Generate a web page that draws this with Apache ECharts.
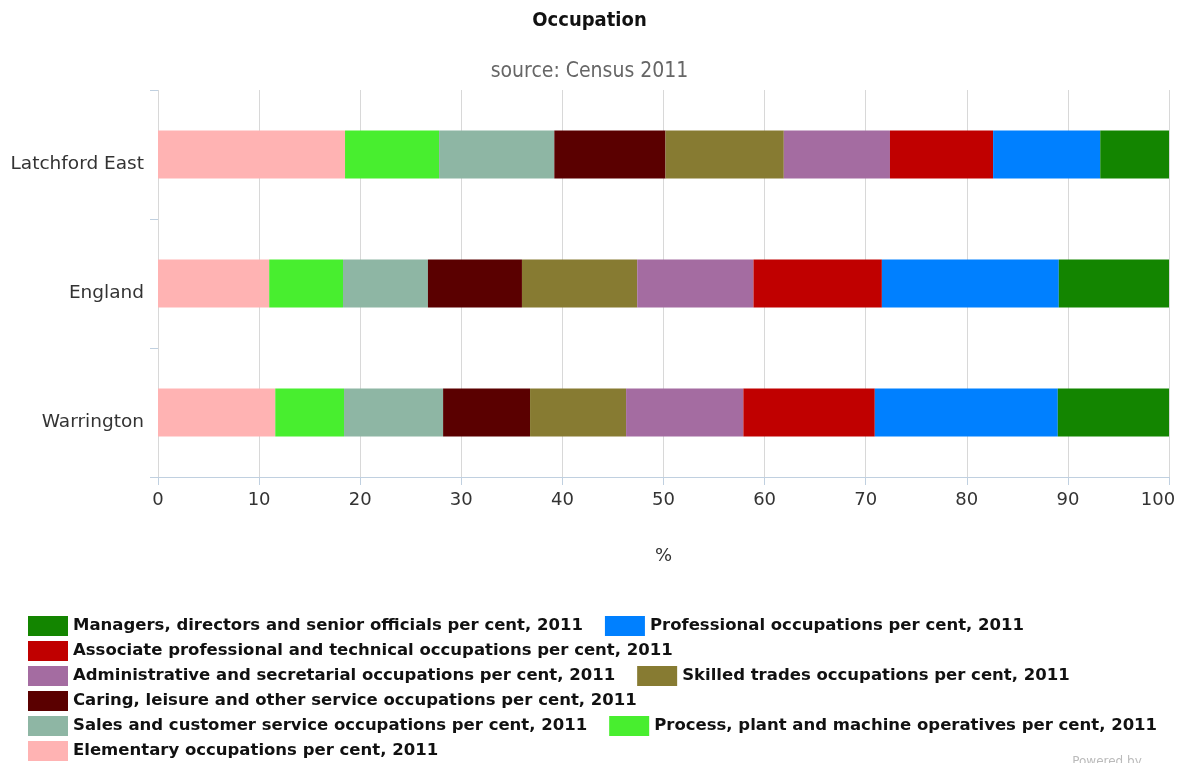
<!DOCTYPE html>
<html>
<head>
<meta charset="utf-8">
<script src="https://cdn.jsdelivr.net/npm/echarts@6/dist/echarts.min.js"></script>
<style>
  html, body { margin: 0; padding: 0; background: #fff; overflow: hidden; }
  #chart { width: 1179px; height: 763px; }
</style>
</head>
<body>
<div id="chart"></div>
<script>
// categories, top to bottom
var places = ['Latchford East', 'England', 'Warrington'];
var xTicks = [0, 10, 20, 30, 40, 50, 60, 70, 80, 90, 100];

// per cent values, same order as places
var managers     = [6.9, 10.9, 11.1];
var professional = [10.6, 17.5, 18.1];
var associate    = [10.2, 12.7, 13.0];
var admin        = [10.5, 11.5, 11.6];
var skilled      = [11.7, 11.4, 9.5];
var caring       = [11.0, 9.3, 8.6];
var sales        = [11.4, 8.4, 9.8];
var process      = [9.3, 7.3, 6.8];
var elementary   = [18.5, 11.0, 11.6];

var names = {
  managers: 'Managers, directors and senior officials per cent, 2011',
  professional: 'Professional occupations per cent, 2011',
  associate: 'Associate professional and technical occupations per cent, 2011',
  admin: 'Administrative and secretarial occupations per cent, 2011',
  skilled: 'Skilled trades occupations per cent, 2011',
  caring: 'Caring, leisure and other service occupations per cent, 2011',
  sales: 'Sales and customer service occupations per cent, 2011',
  process: 'Process, plant and machine operatives per cent, 2011',
  elementary: 'Elementary occupations per cent, 2011'
};

var colors = {
  managers: '#138500',
  professional: '#0080ff',
  associate: '#c00000',
  admin: '#a46ca1',
  skilled: '#877b32',
  caring: '#5a0000',
  sales: '#8eb6a4',
  process: '#48ee2f',
  elementary: '#ffb3b3'
};

// stacking runs left to right
var stackOrder = [
  ['elementary', elementary], ['process', process], ['sales', sales],
  ['caring', caring], ['skilled', skilled], ['admin', admin],
  ['associate', associate], ['professional', professional], ['managers', managers]
];

var legendRows = [
  ['managers', 'professional'],
  ['associate'],
  ['admin', 'skilled'],
  ['caring'],
  ['sales', 'process'],
  ['elementary']
];

var font = 'DejaVu Sans';

var series = stackOrder.map(function (s) {
  return {
    name: names[s[0]],
    type: 'bar',
    stack: 'occ',
    barWidth: 48,
    itemStyle: { color: colors[s[0]] },
    data: s[1]
  };
});

var legends = legendRows.map(function (row, i) {
  return {
    left: 28,
    top: 616 + i * 25,
    padding: 0,
    itemWidth: 40,
    itemHeight: 20,
    itemGap: 22,
    icon: 'rect',
    selectedMode: false,
    textStyle: { fontFamily: font, fontWeight: 'bold', fontSize: 16.5, color: '#111' },
    data: row.map(function (k) { return names[k]; })
  };
});

var chart = echarts.init(document.getElementById('chart'));
chart.setOption({
  animation: false,
  title: [
    { text: 'Occupation', left: 'center', top: 6,
      textStyle: { fontFamily: 'DejaVu Sans Condensed', fontWeight: 'bold', fontSize: 20, color: '#111' } },
    { text: 'source: Census 2011', left: 'center', top: 56,
      textStyle: { fontFamily: 'DejaVu Sans Condensed', fontWeight: 'normal', fontSize: 21, color: '#666' } }
  ],
  legend: legends,
  graphic: [{
    type: 'text', right: 22, top: 756,
    style: { text: 'Powered by ...', fill: '#bbb', font: '12px DejaVu Sans' }
  }],
  grid: { left: 158, right: 10, top: 90, bottom: 286, outerBoundsMode: 'none', containLabel: false },
  xAxis: {
    type: 'value', min: 0, max: 100, interval: 10,
    name: '%', nameLocation: 'middle', nameGap: 70,
    nameTextStyle: { fontFamily: font, fontSize: 18, color: '#333' },
    axisLine: { show: true, lineStyle: { color: '#c0d0e0' } },
    axisTick: { show: true, length: 8, lineStyle: { color: '#c0d0e0' } },
    axisLabel: { fontFamily: font, fontSize: 18, color: '#333', margin: 14,
      formatter: function (v) {
        if (xTicks.indexOf(v) < 0) return '';
        return v === 100 ? '{last|' + v + '}' : String(v);
      },
      rich: { last: { fontFamily: font, fontSize: 18, color: '#333', padding: [0, 22, 0, 0] } } },
    splitLine: { show: true, lineStyle: { color: '#d8d8d8' } }
  },
  yAxis: {
    type: 'category', inverse: true, data: places,
    axisLine: { show: false },
    axisTick: { show: true, length: 8, lineStyle: { color: '#c0d0e0' } },
    axisLabel: { fontFamily: font, fontSize: 18.5, color: '#333', margin: 14, verticalAlign: 'top' }
  },
  series: series
});
</script>
</body>
</html>
